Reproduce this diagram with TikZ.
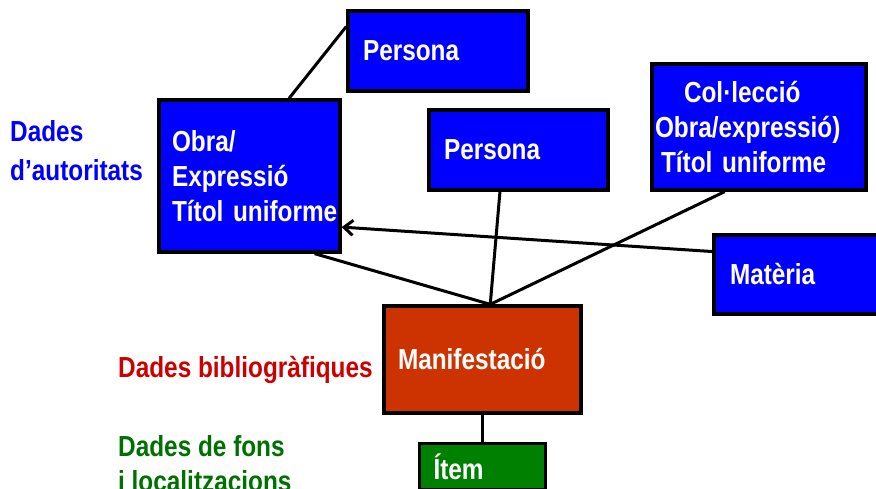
\documentclass[tikz,border=0pt]{standalone}
\usepackage{fontspec}
\setmainfont{Liberation Sans}[FakeStretch=0.84]
\usetikzlibrary{shapes.geometric, arrows, arrows.meta, positioning}
\definecolor{authblue}{RGB}{0,0,255}
\definecolor{biblired}{RGB}{204,0,0}
\definecolor{fonsgreen}{RGB}{0,112,0}
\definecolor{manifill}{RGB}{204,51,0}
\definecolor{itemfill}{RGB}{0,128,0}
\hyphenpenalty=10000
\exhyphenpenalty=10000
\tikzstyle{entity} = [
  rectangle,
  draw=black,
  line width=3.3pt,
  fill=authblue,
  text=white,
  align=left,
  inner xsep=15pt,
  font=\bfseries\fontsize{29}{35}\selectfont
]
\tikzstyle{manif} = [entity, fill=manifill, inner xsep=14pt]
\tikzstyle{itembox} = [entity, fill=itemfill, inner xsep=14pt]
\tikzstyle{note} = [
  inner sep=0pt,
  align=left,
  font=\bfseries\fontsize{29}{39}\selectfont
]
\tikzstyle{link} = [line width=3pt]
\tikzstyle{arrow} = [link, ->, >={Straight Barb[length=9pt, width=15pt]}]

\begin{document}
\begin{tikzpicture}[x=1pt, y=-1pt]
    \useasboundingbox (0,0) rectangle (876,488);
    \clip (0,0) rectangle (876,488);

    \node (obra) [entity, inner xsep=13pt, text width=155pt, minimum height=152pt] at (249.5,176) {Obra/\\Expressió\\\mbox{Títol uniforme}};
    \node (persona-top) [entity, text width=150pt, minimum height=80pt] at (438,51) {Persona};
    \node (persona-mid) [entity, text width=149pt, minimum height=80pt] at (518.5,150) {Persona};
    \node (colleccio) [entity, inner xsep=3pt, text width=208pt, minimum height=126pt] at (759,127)
      {\hspace*{29pt}Col·lecció\\Obra/expressió)\\\hspace*{6pt}\mbox{Títol uniforme}};
    \node (materia) [entity, inner xsep=16pt, text width=136pt, minimum height=79pt] at (798,274.5) {Matèria};
    \node (mani) [manif, text width=169pt, minimum height=107pt] at (482.5,359.5) {Manifestació};
    \node (item) [itembox, text width=98pt, minimum height=46pt, below=27pt of mani] {Ítem};

    \node (autoritats) [note, text=authblue, anchor=west] at (10,151) {Dades\\d’autoritats};
    \node (biblio) [note, text=biblired, anchor=base west] at (118,377) {Dades bibliogràfiques};
    \node (fons) [note, text=fonsgreen, anchor=north west] at (118,435) {Dades de fons\\[-4pt]i localitzacions};

    \draw [link] (persona-top.165.7) -- (obra.63.7);
    \draw [link] (obra.-50.5) -- (mani.82);
    \draw [link] (persona-mid.-114.8) -- (mani.82);
    \draw [link] (colleccio.-118.4) -- (mani.82);
    \draw [arrow] (materia.165) -- (obra.-29.4);
    \draw [link] (mani) -- (item);
  \end{tikzpicture}
\end{document}
